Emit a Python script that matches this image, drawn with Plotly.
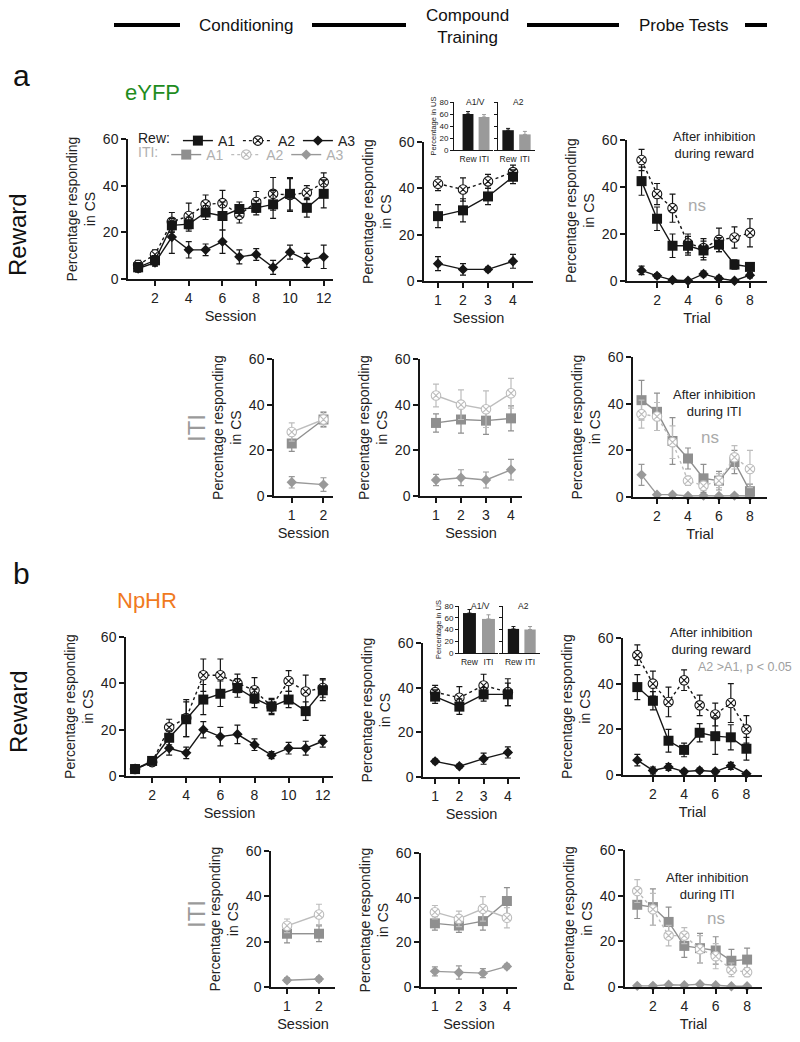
import plotly.graph_objects as go

W, H = 800, 1042
FONT = "Liberation Sans, Arial, sans-serif"
BLACK = "#161616"
G_A1 = "#8f8f8f"
G_A2 = "#bdbdbd"
G_A3 = "#999999"

# ---------------- data ----------------
sessions12 = [1, 2, 3, 4, 5, 6, 7, 8, 9, 10, 11, 12]
sessions4 = [1, 2, 3, 4]
sessions2 = [1, 2]
trials8 = [1, 2, 3, 4, 5, 6, 7, 8]
inset_groups = ["Rew", "ITI"]

# eYFP - reward
a_cond_rew_a1 = [5, 8, 23, 23.5, 28.5, 27, 30, 30.5, 32, 36.5, 30.5, 36.5]
a_cond_rew_a1_err = [2, 2, 3, 3, 3, 6, 3, 3, 6, 7, 4, 6]
a_cond_rew_a2 = [6, 10.5, 24.5, 27, 32, 32.5, 27.5, 33, 36.5, 36, 37, 41.5]
a_cond_rew_a2_err = [2, 2, 4, 5.5, 4, 5.5, 3.5, 4.5, 7, 7, 3, 4]
a_cond_rew_a3 = [4.5, 7, 18, 12.5, 12.5, 16, 9.5, 10.5, 5, 11.5, 8, 9.5]
a_cond_rew_a3_err = [1.5, 1.5, 7, 3.5, 2.5, 5, 3, 2.5, 3, 3, 3, 5]

a_comp_rew_a1 = [28, 30.5, 36.5, 45]
a_comp_rew_a1_err = [5, 5, 3.5, 3]
a_comp_rew_a2 = [42, 39.5, 43, 47]
a_comp_rew_a2_err = [3, 5, 3, 3]
a_comp_rew_a3 = [7.5, 5, 5, 8.5]
a_comp_rew_a3_err = [3, 2.5, 1, 3]

a_probe_rew_a1 = [42.5, 26.5, 15, 15, 13, 15.5, 7, 6]
a_probe_rew_a1_err = [6, 5, 5, 4, 4, 3, 2, 1]
a_probe_rew_a2 = [51.5, 37, 31, 16, 14, 17.5, 18.5, 20.5]
a_probe_rew_a2_err = [4.5, 4.5, 6, 4, 4, 5, 4.5, 6]
a_probe_rew_a3 = [4.5, 2.2, 0.4, 0.1, 3, 1.1, 0.1, 2.5]
a_probe_rew_a3_err = [1.8, 1, 0.5, 0.5, 1.2, 1, 0.5, 1.2]

# eYFP - ITI
a_cond_iti_a1 = [23, 33.5]
a_cond_iti_a1_err = [3.5, 3]
a_cond_iti_a2 = [28, 33.5]
a_cond_iti_a2_err = [4, 3.5]
a_cond_iti_a3 = [6, 5]
a_cond_iti_a3_err = [2.5, 3]

a_comp_iti_a1 = [32, 33.5, 33, 34]
a_comp_iti_a1_err = [4, 6, 6, 5.5]
a_comp_iti_a2 = [44, 40, 38, 45]
a_comp_iti_a2_err = [5, 6.5, 8, 6.5]
a_comp_iti_a3 = [7, 8, 7, 11.5]
a_comp_iti_a3_err = [2.5, 3.5, 3.5, 4.5]

a_probe_iti_a1 = [41.5, 36.5, 24, 16.5, 8, 7, 15, 2.5]
a_probe_iti_a1_err = [8.5, 8, 10, 4.5, 6, 4, 5, 3]
a_probe_iti_a2 = [35.5, 34.5, 23.5, 7, 4.8, 7, 17, 12]
a_probe_iti_a2_err = [6, 6, 7, 2, 2, 3, 5, 8]
a_probe_iti_a3 = [9.5, 1, 1, 0.4, 0.6, 0.4, 0.6, 0.4]
a_probe_iti_a3_err = [4.5, 0.5, 0.5, 0.3, 0.3, 0.3, 0.3, 0.3]

# NpHR - reward
b_cond_rew_a1 = [3, 6.5, 16.5, 24.5, 33, 35.5, 38, 33.5, 30, 33, 28, 37]
b_cond_rew_a1_err = [1, 1.5, 3, 7.5, 6.5, 5.5, 4, 4, 3.5, 3.5, 4, 4.5]
b_cond_rew_a2 = [3, 6, 21, 25, 43.5, 43.5, 40, 37, 30, 41, 36.5, 38]
b_cond_rew_a2_err = [1, 1.5, 3.5, 8, 7, 7, 4, 5.5, 3, 4.5, 7, 4]
b_cond_rew_a3 = [3, 6, 12, 10, 20, 17, 18, 13.5, 9, 12, 12, 15]
b_cond_rew_a3_err = [1, 1.5, 3, 2.5, 3.5, 4, 4, 2.5, 1.5, 2.5, 3, 2.5]

b_comp_rew_a1 = [36, 31.5, 37, 37]
b_comp_rew_a1_err = [3, 3.5, 3, 5]
b_comp_rew_a2 = [38, 35.5, 41, 38]
b_comp_rew_a2_err = [3, 5, 5, 6]
b_comp_rew_a3 = [7, 4.8, 8.2, 11]
b_comp_rew_a3_err = [1, 1, 2.5, 2.5]

b_probe_rew_a1 = [38.5, 32.5, 15, 11, 18.5, 17, 16.5, 11.5]
b_probe_rew_a1_err = [5.5, 4, 5, 3, 4, 8, 5.5, 5]
b_probe_rew_a2 = [52.5, 40, 32, 41.5, 30.5, 26.5, 31.5, 20]
b_probe_rew_a2_err = [4.5, 5.5, 6.5, 4.5, 4.5, 5, 8.5, 6]
b_probe_rew_a3 = [6.5, 2, 3.5, 1.5, 2, 1.5, 4, 0.5]
b_probe_rew_a3_err = [2.5, 1.5, 1.5, 1, 1, 1, 1.5, 0.5]

# NpHR - ITI
b_cond_iti_a1 = [23.5, 23.5]
b_cond_iti_a1_err = [4, 3.5]
b_cond_iti_a2 = [27, 32]
b_cond_iti_a2_err = [3, 4.5]
b_cond_iti_a3 = [3, 3.5]
b_cond_iti_a3_err = [1, 1]

b_comp_iti_a1 = [28.5, 27.5, 29.5, 38.5]
b_comp_iti_a1_err = [3, 3, 4, 6]
b_comp_iti_a2 = [33.5, 30.5, 35, 31]
b_comp_iti_a2_err = [3, 3.5, 5.5, 4.5]
b_comp_iti_a3 = [7, 6.5, 6.2, 9.2]
b_comp_iti_a3_err = [2, 3, 2, 1]

b_probe_iti_a1 = [36, 35, 28.5, 18, 17, 16, 11.5, 12]
b_probe_iti_a1_err = [6, 8, 6.5, 5, 6.5, 6, 5, 5]
b_probe_iti_a2 = [42, 34, 22.5, 22.5, 16.5, 13.5, 7.5, 6.5]
b_probe_iti_a2_err = [5, 7, 4.5, 3.5, 6, 5.5, 3, 2]
b_probe_iti_a3 = [0.5, 0.5, 1, 0.8, 1.2, 0.8, 0.3, 0.3]
b_probe_iti_a3_err = [0.5, 0.5, 0.5, 0.5, 0.5, 0.5, 0.3, 0.3]

# insets: percentage in US
a_us_a1v = [60, 55]
a_us_a1v_err = [4, 4]
a_us_a2 = [33, 26]
a_us_a2_err = [3, 5]
b_us_a1v = [68, 58]
b_us_a1v_err = [6, 7]
b_us_a2 = [41, 40]
b_us_a2_err = [4, 5]

# ---------------- figure ----------------
fig = go.Figure()
layout = {}
annotations = []


def key(prefix, n):
    return prefix + ("" if n == 1 else str(n))


def px_x(a, b):
    return [a / W, b / W]


def px_y(top, bot):
    return [1 - bot / H, 1 - top / H]


axis_style = dict(showline=True, linecolor=BLACK, linewidth=1.5, ticks="outside",
                  ticklen=5, tickwidth=1.5, tickcolor=BLACK, showgrid=False,
                  zeroline=False, automargin=False,
                  tickfont=dict(size=14, color="#222"))


def add_panel(n, x0, x1, ytop, ybot, xrange, xticks, xtitle):
    layout[key("xaxis", n)] = dict(
        axis_style, domain=px_x(x0, x1), anchor=key("y", n), range=xrange,
        tickvals=xticks,
        title=dict(text=xtitle, font=dict(size=14.5, color="#222"), standoff=6))
    layout[key("yaxis", n)] = dict(
        axis_style, domain=px_y(ytop, ybot), anchor=key("x", n), range=[0, 60],
        tickvals=[0, 20, 40, 60],
        title=dict(text="Percentage responding<br>in CS",
                   font=dict(size=14, color="#222"), standoff=4))


def add_series(n, x, y, err, kind, grey=False, dotted=False, legend=None):
    if kind == "A1":
        color = G_A1 if grey else BLACK
        marker = dict(symbol="square", size=10, color=color)
    elif kind == "A2":
        color = G_A2 if grey else BLACK
        marker = dict(symbol="circle-x", size=9.5, color="white",
                      line=dict(color=color, width=1.1))
    else:
        color = G_A3 if grey else BLACK
        marker = dict(symbol="diamond", size=8, color=color)
    fig.add_trace(go.Scatter(
        x=x, y=y, mode="lines+markers", name=kind,
        line=dict(color=color, width=1.4, dash="dot" if dotted else "solid"),
        marker=marker,
        error_y=dict(type="data", array=err, color=color, thickness=1.2, width=3),
        xaxis=key("x", n), yaxis=key("y", n), cliponaxis=False, hoverinfo="skip",
        showlegend=legend is not None, legend=legend or "legend"))


def add_reward_panel(n, x, a1, a1e, a2, a2e, a3, a3e, legend=None):
    add_series(n, x, a3, a3e, "A3", legend=legend)
    add_series(n, x, a2, a2e, "A2", dotted=True, legend=legend)
    add_series(n, x, a1, a1e, "A1", legend=legend)


def add_iti_panel(n, x, a1, a1e, a2, a2e, a3, a3e, dotted=False, legend=None):
    add_series(n, x, a3, a3e, "A3", grey=True, legend=legend)
    add_series(n, x, a1, a1e, "A1", grey=True, legend=legend)
    add_series(n, x, a2, a2e, "A2", grey=True, dotted=dotted, legend=legend)


# panel a
add_panel(1, 128, 333, 139, 279, [0.4, 12.55], [2, 4, 6, 8, 10, 12], "Session")
add_panel(2, 424, 533, 142, 281, [0.44, 4.8], [1, 2, 3, 4], "Session")
add_panel(3, 627, 767, 140, 281, [0.06, 9.1], [2, 4, 6, 8], "Trial")
add_panel(4, 274, 333, 359, 496, [0.44, 2.3], [1, 2], "Session")
add_panel(5, 420, 522, 359, 496, [0.36, 4.44], [1, 2, 3, 4], "Session")
add_panel(6, 633, 767, 357, 497, [0.45, 9.1], [2, 4, 6, 8], "Trial")
# panel b
add_panel(7, 126, 333, 637, 776, [0.47, 12.6], [2, 4, 6, 8, 10, 12], "Session")
add_panel(8, 423, 520, 643, 777, [0.5, 4.5], [1, 2, 3, 4], "Session")
add_panel(9, 623, 762, 638, 775, [0.08, 9.0], [2, 4, 6, 8], "Trial")
add_panel(10, 271, 335, 851, 987, [0.5, 2.5], [1, 2], "Session")
add_panel(11, 421, 517, 853, 987, [0.42, 4.42], [1, 2, 3, 4], "Session")
add_panel(12, 625, 762, 850, 987, [0.22, 8.95], [2, 4, 6, 8], "Trial")

add_reward_panel(1, sessions12, a_cond_rew_a1, a_cond_rew_a1_err, a_cond_rew_a2,
                 a_cond_rew_a2_err, a_cond_rew_a3, a_cond_rew_a3_err, legend="legend")
for tr, rank in zip(fig.data[-3:], [3, 2, 1]):
    tr.update(legendrank=rank)
add_reward_panel(2, sessions4, a_comp_rew_a1, a_comp_rew_a1_err, a_comp_rew_a2,
                 a_comp_rew_a2_err, a_comp_rew_a3, a_comp_rew_a3_err)
add_reward_panel(3, trials8, a_probe_rew_a1, a_probe_rew_a1_err, a_probe_rew_a2,
                 a_probe_rew_a2_err, a_probe_rew_a3, a_probe_rew_a3_err)
add_iti_panel(4, sessions2, a_cond_iti_a1, a_cond_iti_a1_err, a_cond_iti_a2,
              a_cond_iti_a2_err, a_cond_iti_a3, a_cond_iti_a3_err)
add_iti_panel(5, sessions4, a_comp_iti_a1, a_comp_iti_a1_err, a_comp_iti_a2,
              a_comp_iti_a2_err, a_comp_iti_a3, a_comp_iti_a3_err)
add_iti_panel(6, trials8, a_probe_iti_a1, a_probe_iti_a1_err, a_probe_iti_a2,
              a_probe_iti_a2_err, a_probe_iti_a3, a_probe_iti_a3_err,
              dotted=True, legend="legend2")
for tr, rank in zip(fig.data[-3:], [3, 1, 2]):
    tr.update(legendrank=rank)

add_reward_panel(7, sessions12, b_cond_rew_a1, b_cond_rew_a1_err, b_cond_rew_a2,
                 b_cond_rew_a2_err, b_cond_rew_a3, b_cond_rew_a3_err)
add_reward_panel(8, sessions4, b_comp_rew_a1, b_comp_rew_a1_err, b_comp_rew_a2,
                 b_comp_rew_a2_err, b_comp_rew_a3, b_comp_rew_a3_err)
add_reward_panel(9, trials8, b_probe_rew_a1, b_probe_rew_a1_err, b_probe_rew_a2,
                 b_probe_rew_a2_err, b_probe_rew_a3, b_probe_rew_a3_err)
add_iti_panel(10, sessions2, b_cond_iti_a1, b_cond_iti_a1_err, b_cond_iti_a2,
              b_cond_iti_a2_err, b_cond_iti_a3, b_cond_iti_a3_err)
add_iti_panel(11, sessions4, b_comp_iti_a1, b_comp_iti_a1_err, b_comp_iti_a2,
              b_comp_iti_a2_err, b_comp_iti_a3, b_comp_iti_a3_err)
add_iti_panel(12, trials8, b_probe_iti_a1, b_probe_iti_a1_err, b_probe_iti_a2,
              b_probe_iti_a2_err, b_probe_iti_a3, b_probe_iti_a3_err, dotted=True)

# ---------------- insets ----------------
inset_style = dict(showline=True, linecolor=BLACK, linewidth=1, showgrid=False,
                   zeroline=False, automargin=False)


def add_inset(n, x0, x1, ytop, ybot, xrange, vals, errs, title, labels=True):
    layout[key("xaxis", n)] = dict(
        inset_style, domain=px_x(x0, x1), anchor=key("y", n), range=xrange,
        type="category", ticks="", tickangle=0, ticklabelstandoff=1,
        tickfont=dict(size=8.5, color="#222"))
    layout[key("yaxis", n)] = dict(
        inset_style, domain=px_y(ytop, ybot), anchor=key("x", n), range=[0, 80],
        tickvals=[0, 20, 40, 60, 80], ticks="outside", ticklen=3, tickwidth=1,
        tickcolor=BLACK, showticklabels=labels, tickfont=dict(size=8, color="#222"),
        title=dict(text="Percentage in US" if labels else "",
                   font=dict(size=7.5, color="#222"), standoff=1))
    for g, v, e, c in zip(inset_groups, vals, errs, [BLACK, "#9a9a9a"]):
        fig.add_trace(go.Bar(
            x=[g], y=[v], marker=dict(color=c, line=dict(width=0)), width=0.68,
            error_y=dict(type="data", array=[e], arrayminus=[0], symmetric=False,
                         color=c, thickness=1, width=2),
            xaxis=key("x", n), yaxis=key("y", n), showlegend=False,
            hoverinfo="skip"))
    annotations.append(dict(text=title, xref=key("x", n) + " domain", x=0.55,
                            yref=key("y", n) + " domain", y=1.0, xanchor="center",
                            yanchor="middle", showarrow=False,
                            font=dict(size=8.5, color="#222")))


add_inset(13, 454, 493, 102, 150, [-0.875, 1.56], a_us_a1v, a_us_a1v_err, "A1/V")
add_inset(14, 498, 535, 102, 150, [-0.6, 1.6], a_us_a2, a_us_a2_err, "A2", labels=False)
add_inset(15, 459, 498, 606, 653, [-0.55, 1.5], b_us_a1v, b_us_a1v_err, "A1/V")
add_inset(16, 503, 540, 606, 653, [-0.63, 1.6], b_us_a2, b_us_a2_err, "A2", labels=False)


# ---------------- text ----------------
def paper_text(text, x, y, size, color="#111", angle=0):
    annotations.append(dict(text=text, xref="paper", yref="paper", x=x / W,
                            y=1 - y / H, xanchor="center", yanchor="middle",
                            showarrow=False, textangle=angle,
                            font=dict(size=size, color=color)))


paper_text("Conditioning", 246, 25, 17)
paper_text("Compound<br>Training", 467, 26, 17)
paper_text("Probe Tests", 683, 25, 17)
paper_text("a", 21, 75, 30)
paper_text("b", 21, 573, 30)
paper_text("eYFP", 152, 92, 22, color="#1e8c1e")
paper_text("NpHR", 147, 600, 22, color="#f07a1e")
paper_text("Reward", 18, 235, 24, angle=-90)
paper_text("Reward", 18, 712, 24, angle=-90)
paper_text("ITI", 196, 428, 24, color="#9a9a9a", angle=-90)
paper_text("ITI", 196, 914, 24, color="#9a9a9a", angle=-90)


def data_text(n, text, x, y, size, color="#222"):
    annotations.append(dict(text=text, xref=key("x", n), yref=key("y", n), x=x, y=y,
                            xanchor="center", yanchor="middle", showarrow=False,
                            font=dict(size=size, color=color)))


data_text(3, "After inhibition<br>during reward", 5.7, 58, 13)
data_text(3, "ns", 4.6, 32.3, 17, "#aaaaaa")
data_text(6, "After inhibition<br>during ITI", 5.7, 40.3, 13)
data_text(6, "ns", 5.45, 25.3, 17, "#aaaaaa")
data_text(9, "After inhibition<br>during reward", 5.7, 58.7, 13)
data_text(9, "A2 >A1, p < 0.05", 7.9, 47.3, 12.5, "#a0a0a0")
data_text(12, "After inhibition<br>during ITI", 5.44, 44.2, 13)
data_text(12, "ns", 6.0, 29.8, 17, "#aaaaaa")

# header bars
shapes = []
for a, b in [(114, 180), (312, 406), (527, 619), (745, 767)]:
    shapes.append(dict(type="line", xref="paper", yref="paper", x0=a / W, x1=b / W,
                       y0=1 - 25 / H, y1=1 - 25 / H, line=dict(color="#000", width=4)))

legend_common = dict(orientation="h", xanchor="left", yanchor="middle",
                     bgcolor="rgba(0,0,0,0)", itemwidth=30, entrywidth=15,
                     entrywidthmode="pixels", tracegroupgap=0,
                     traceorder="normal", itemclick=False, borderwidth=0)

fig.update_layout(
    width=W, height=H, margin=dict(l=0, r=0, t=0, b=0, autoexpand=False),
    paper_bgcolor="white", plot_bgcolor="white",
    font=dict(family=FONT, color="#222"),
    annotations=annotations, shapes=shapes,
    legend=dict(legend_common, x=136 / W, y=1 - 141 / H,
                title=dict(text="Rew:", side="left", font=dict(size=14, color="#222")),
                font=dict(size=14, color="#222")),
    legend2=dict(legend_common, x=136 / W, y=1 - 155 / H,
                 title=dict(text="ITI:", side="left", font=dict(size=14, color="#b0b0b0")),
                 font=dict(size=14, color="#b0b0b0")),
    bargap=0.3,
    **layout,
)

fig.write_html("out.html", config={"displayModeBar": False},
               post_script="document.body.style.margin='0px';")
